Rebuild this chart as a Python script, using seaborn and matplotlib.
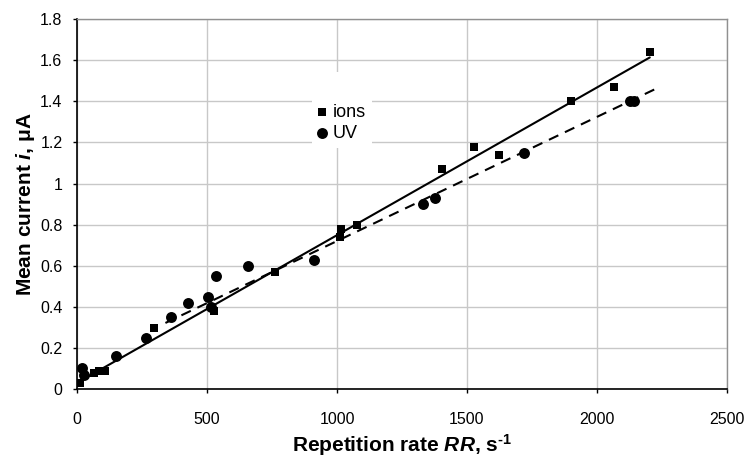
import numpy as np
import pandas as pd
import matplotlib
matplotlib.use("Agg")
import matplotlib.pyplot as plt
from matplotlib.patches import Rectangle
import seaborn as sns

# ---- data ----
ions_rr = [10, 67, 85, 109, 297, 528, 763, 1012, 1014, 1076, 1405, 1528, 1623, 1899, 2064, 2203]
ions_i = [0.03, 0.08, 0.09, 0.09, 0.30, 0.38, 0.57, 0.74, 0.78, 0.80, 1.07, 1.18, 1.14, 1.40, 1.47, 1.64]

uv_rr = [18, 28, 149, 265, 360, 428, 505, 515, 533, 656, 913, 1332, 1377, 1721, 2127, 2144]
uv_i = [0.105, 0.07, 0.16, 0.25, 0.35, 0.42, 0.45, 0.40, 0.55, 0.60, 0.63, 0.90, 0.93, 1.15, 1.40, 1.40]

x_ticks = [0, 500, 1000, 1500, 2000, 2500]
y_ticks = [0, 0.2, 0.4, 0.6, 0.8, 1, 1.2, 1.4, 1.6, 1.8]
y_tick_labels = ["0", "0.2", "0.4", "0.6", "0.8", "1", "1.2", "1.4", "1.6", "1.8"]
uv_line_start = 340   # where the dashed UV trendline begins
uv_forecast = 100     # trendline forward extension

sns.set_theme(style="white")
plt.rcParams["font.family"] = ["Liberation Sans", "DejaVu Sans"]
plt.rcParams["mathtext.fontset"] = "custom"
plt.rcParams["mathtext.rm"] = "Liberation Sans:bold"
plt.rcParams["mathtext.it"] = "Liberation Sans:italic:bold"
plt.rcParams["mathtext.bf"] = "Liberation Sans:bold"
plt.rcParams["text.color"] = "black"
plt.rcParams["axes.labelcolor"] = "black"

fig = plt.figure(figsize=(7.5, 4.61), dpi=100)
ax = fig.add_axes([0.1027, 0.1555, 0.8666, 0.8033])

ions = pd.DataFrame({"rr": ions_rr, "i": ions_i})
uv = pd.DataFrame({"rr": uv_rr, "i": uv_i})

# trendlines (least squares fits of the data)
pi = np.polyfit(ions["rr"], ions["i"], 1)
xi = np.array([ions["rr"].min(), ions["rr"].max()])
pu = np.polyfit(uv["rr"], uv["i"], 1)
xu = np.array([uv_line_start, uv["rr"].max() + uv_forecast])
ax.plot(xi, np.polyval(pi, xi), color="black", lw=1.5, zorder=3)
ax.plot(xu, np.polyval(pu, xu), color="black", lw=1.5, ls=(0, (5, 3.5)), zorder=3)

sns.scatterplot(data=ions, x="rr", y="i", marker="s", s=38, color="black",
                edgecolor="black", linewidth=0, ax=ax, zorder=4, label="ions")
sns.scatterplot(data=uv, x="rr", y="i", marker="o", s=62, color="black",
                edgecolor="black", linewidth=0, ax=ax, zorder=4, label="UV")

ax.set_xlim(0, 2500)
ax.set_ylim(0, 1.8)
ax.set_xticks(x_ticks)
ax.set_yticks(y_ticks)
ax.set_yticklabels(y_tick_labels)
ax.grid(True, color="#c8c8c8", lw=1.0)
ax.set_axisbelow(True)

for side in ["left", "bottom"]:
    ax.spines[side].set_color("black")
    ax.spines[side].set_linewidth(1.2)
for side in ["top", "right"]:
    ax.spines[side].set_color("#909090")
    ax.spines[side].set_linewidth(1.0)

ax.tick_params(axis="both", which="major", direction="out", length=3, width=1,
               color="black", labelsize=11.5, labelcolor="black")
ax.tick_params(axis="x", bottom=True, pad=13)
ax.tick_params(axis="y", left=True, pad=7.5)

ax.set_xlabel(r"Repetition rate $RR$, s$^{\text{-1}}$", fontsize=15, fontweight="bold",
              labelpad=4, color="black")
ax.set_ylabel(r"Mean current $i$, μA", fontsize=15, fontweight="bold",
              labelpad=2, color="black")

# white legend background box (hides the gridlines)
ax.add_patch(Rectangle((0.3615, 0.6516), 0.0923, 0.2052, transform=ax.transAxes,
                       facecolor="white", edgecolor="none", zorder=2))

leg = ax.legend(loc="center left", bbox_to_anchor=(0.366, 0.7194), frameon=False,
                fontsize=13, handletextpad=0.2, borderpad=0, borderaxespad=0,
                labelspacing=0.2, handlelength=0.8)
leg.set_zorder(6)

fig.savefig("out.png", dpi=100)
